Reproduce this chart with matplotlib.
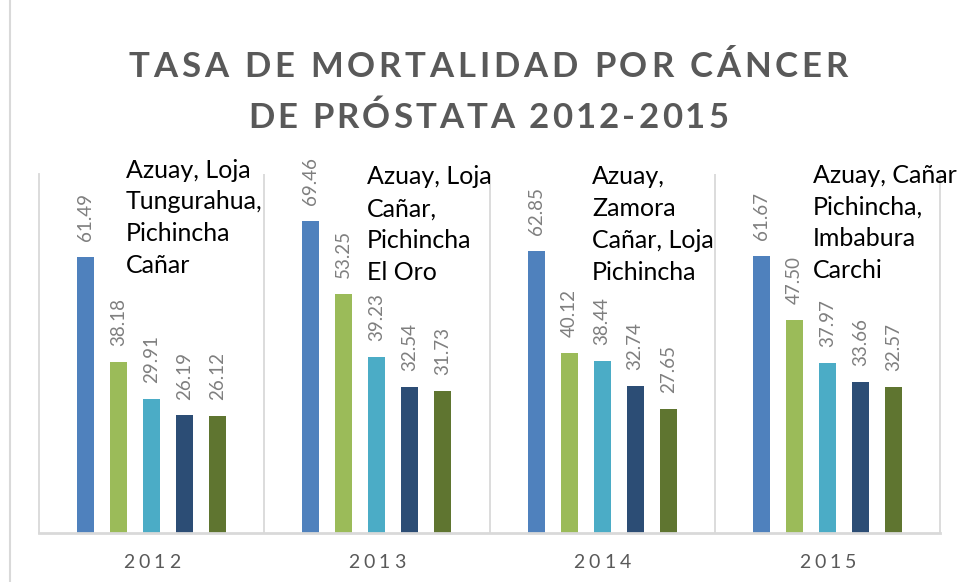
import matplotlib
matplotlib.use('Agg')
import matplotlib.pyplot as plt
import numpy as np
from matplotlib.font_manager import FontProperties
from matplotlib.lines import Line2D

plt.rcParams['font.family'] = ['Lato', 'DejaVu Sans']

# Tasas por año, de la provincia con mayor tasa a la quinta
years = ['2012', '2013', '2014', '2015']
rank1 = [61.49, 69.46, 62.85, 61.67]
rank2 = [38.18, 53.25, 40.12, 47.50]
rank3 = [29.91, 39.23, 38.44, 37.97]
rank4 = [26.19, 32.54, 32.74, 33.66]
rank5 = [26.12, 31.73, 27.65, 32.57]
provinces = [
    'Azuay, Loja\nTungurahua,\nPichincha\nCañar',
    'Azuay, Loja\nCañar,\nPichincha\nEl Oro',
    'Azuay,\nZamora\nCañar, Loja\nPichincha',
    'Azuay, Cañar\nPichincha,\nImbabura\nCarchi',
]
title_lines = ['TASA DE MORTALIDAD POR CÁNCER', 'DE PRÓSTATA 2012-2015']

colors = ['#4F81BD', '#9BBB59', '#4BACC6', '#2C4D75', '#5F7530']
grid_grey = '#D9D9D9'
text_grey = '#595959'

W, H = 960, 582
fig = plt.figure(figsize=(W / 100, H / 100), dpi=100)
ax = fig.add_axes([39 / W, 49 / H, 901 / W, 359 / H])

x = np.arange(len(years)) + 0.5
step = 0.1467
width = 0.0756
series = [rank1, rank2, rank3, rank4, rank5]
for i, (vals, c) in enumerate(zip(series, colors)):
    xs = x + (i - 2) * step
    bars = ax.bar(xs, vals, width, color=c, zorder=2)
    for b, v in zip(bars, vals):
        ax.annotate(f'{v:.2f}', (b.get_x() + b.get_width() / 2, v),
                    xytext=(0, 11.5), textcoords='offset points',
                    rotation=90, ha='center', va='bottom',
                    fontsize=13.5, color='#7F7F7F')

ax.set_xlim(0, len(years))
ax.set_ylim(0, 80)
ax.set_xticks([])
ax.set_yticks([])
ax.spines['top'].set_visible(False)
for side in ['left', 'right']:
    ax.spines[side].set_color(grid_grey)
    ax.spines[side].set_linewidth(1.3)
ax.spines['bottom'].set_color(grid_grey)
ax.spines['bottom'].set_linewidth(2.0)
for sep in range(1, len(years)):
    ax.axvline(sep, color=grid_grey, lw=1.3, zorder=1)

# listado de provincias junto a cada grupo
ann_x = [0.386, 1.456, 2.455, 3.436]
ann_top = [83.4, 81.9, 81.9, 82.3]
for xi, yi, txt in zip(ann_x, ann_top, provinces):
    ax.text(xi, yi, txt, ha='left', va='top', fontsize=18,
            linespacing=1.46, color='black', clip_on=False)

renderer = fig.canvas.get_renderer()


def spaced_text(cx, baseline, s, prop, gap, color):
    # texto centrado en cx (pixeles) con espaciado extra entre letras
    em = prop.get_size_in_points() * fig.dpi / 72
    widths = []
    for ch in s:
        if ch == ' ':
            widths.append(0.24 * em)
        else:
            w, h, d = renderer.get_text_width_height_descent(ch, prop, ismath=False)
            widths.append(w)
    total = sum(widths) + gap * (len(s) - 1)
    px = cx - total / 2
    for ch, w in zip(s, widths):
        if ch != ' ':
            fig.text(px / W, (H - baseline) / H, ch, fontproperties=prop,
                     color=color, ha='left', va='baseline')
        px += w + gap


title_prop = FontProperties(family=['Lato', 'DejaVu Sans'], weight='bold', size=25)
spaced_text(488, 77, title_lines[0], title_prop, 3.8, text_grey)
spaced_text(488, 128, title_lines[1], title_prop, 3.1, text_grey)

year_prop = FontProperties(family=['Lato', 'DejaVu Sans'], size=14)
for xc, yr in zip(x, years):
    px = 39 + xc * 901 / len(years)
    spaced_text(px, 568, yr, year_prop, 4, text_grey)

# borde del area del grafico
fig.add_artist(Line2D([10 / W, 10 / W], [0, 1], color=grid_grey, lw=1.5))

fig.savefig('out.png', dpi=100)
